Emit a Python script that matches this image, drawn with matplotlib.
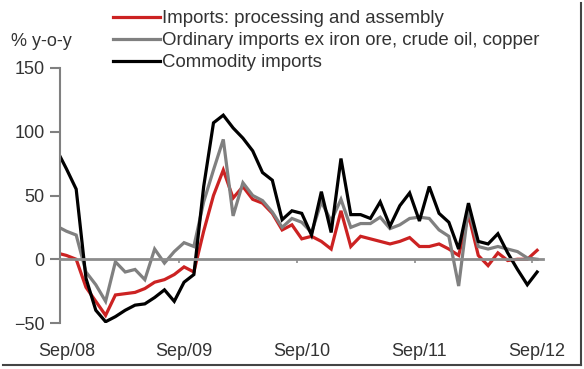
import numpy as np
import matplotlib.pyplot as plt
from matplotlib.lines import Line2D

# monthly, Aug/08 .. Sep/12
months = ["Aug/08", "Sep/08", "Oct/08", "Nov/08", "Dec/08", "Jan/09", "Feb/09", "Mar/09", "Apr/09", "May/09",
          "Jun/09", "Jul/09", "Aug/09", "Sep/09", "Oct/09", "Nov/09", "Dec/09", "Jan/10", "Feb/10", "Mar/10",
          "Apr/10", "May/10", "Jun/10", "Jul/10", "Aug/10", "Sep/10", "Oct/10", "Nov/10", "Dec/10", "Jan/11",
          "Feb/11", "Mar/11", "Apr/11", "May/11", "Jun/11", "Jul/11", "Aug/11", "Sep/11", "Oct/11", "Nov/11",
          "Dec/11", "Jan/12", "Feb/12", "Mar/12", "Apr/12", "May/12", "Jun/12", "Jul/12", "Aug/12", "Sep/12"]

processing = [5, 3, 0, -22, -33, -44, -28, -27, -26, -23, -18, -16, -12, -6, -10, 22, 50, 70, 48, 57,
              47, 44, 36, 23, 27, 16, 18, 14, 8, 38, 10, 18, 16, 14, 12, 14, 17, 10, 10, 12,
              8, 3, 35, 3, -5, 5, -1, 0, 0, 7]
ordinary = [26, 22, 19, -10, -20, -33, -2, -10, -8, -16, 8, -3, 6, 13, 10, 45, 70, 94, 34, 60,
            50, 46, 37, 25, 32, 29, 21, 45, 30, 47, 25, 28, 28, 33, 24, 27, 32, 33, 32, 23,
            18, -21, 40, 10, 8, 10, 8, 6, 1, 0]
commodity = [86, 71, 55, -15, -40, -49, -45, -40, -36, -35, -30, -24, -33, -18, -12, 57, 107, 113, 103, 95,
             85, 68, 62, 31, 38, 36, 19, 53, 21, 79, 35, 35, 32, 45, 26, 42, 52, 30, 57, 36,
             29, 8, 44, 14, 12, 20, 5, -8, -20, -10]

series_names = ["Imports: processing and assembly",
                "Ordinary imports ex iron ore, crude oil, copper",
                "Commodity imports"]
series_colors = ["#cc2222", "#808080", "#000000"]

plt.rcParams['font.family'] = ['Liberation Sans', 'DejaVu Sans']
txt = '#333333'
fs = 13

fig = plt.figure(figsize=(5.84, 3.69), dpi=100)
ax = fig.add_axes([60 / 584, 1 - 323 / 369, 483 / 584, 255 / 369])

x = np.arange(len(months))
for vals, name, col in zip([processing, ordinary, commodity], series_names, series_colors):
    ax.plot(x, vals, color=col, lw=2.3, label=name, solid_joinstyle='miter')

ax.set_xlim(0.35, 49.6)
ax.set_ylim(-50, 150)
ax.set_yticks([-50, 0, 50, 100, 150])
ax.tick_params(axis='y', direction='out', length=7, width=1.5, color='#808080',
               labelsize=fs, labelcolor=txt, pad=4)

# zero line acts as the x axis, labels sit under the plot
ax.spines['bottom'].set_position(('data', 0))
ax.spines['bottom'].set_color('#8c8c8c')
ax.spines['bottom'].set_linewidth(2)
ax.spines['left'].set_color('#808080')
ax.spines['left'].set_linewidth(1.5)
ax.spines['top'].set_visible(False)
ax.spines['right'].set_visible(False)

sep_idx = [i for i, m in enumerate(months) if m.startswith("Sep")]
ax.set_xticks(sep_idx)
ax.set_xticklabels([months[i] for i in sep_idx])
ax.set_xticks([i - 0.5 for i in sep_idx[1:]], minor=True)
ax.tick_params(axis='x', which='major', length=0, labelsize=fs, labelcolor=txt, pad=60)
ax.tick_params(axis='x', which='minor', direction='out', length=3, width=1.2, color='#8c8c8c')

ax.legend(loc='upper left', bbox_to_anchor=(113 / 584, 1 - 10 / 369), bbox_transform=fig.transFigure,
          frameon=False, fontsize=13.4, handlelength=2.5, handletextpad=0.15, labelspacing=0.27,
          borderpad=0, borderaxespad=0, labelcolor=txt)

fig.text(11 / 584, 1 - 41 / 369, "% y-o-y", fontsize=fs, color=txt, va='center', ha='left')

# thumbnail frame
fig.add_artist(Line2D([581 / 584, 581 / 584], [1 - 3 / 369, 1 - 365 / 369], color='#444444', lw=1.5))
fig.add_artist(Line2D([3 / 584, 581 / 584], [1 - 365 / 369, 1 - 365 / 369], color='#444444', lw=1.5))

fig.savefig("out.png", dpi=100)
